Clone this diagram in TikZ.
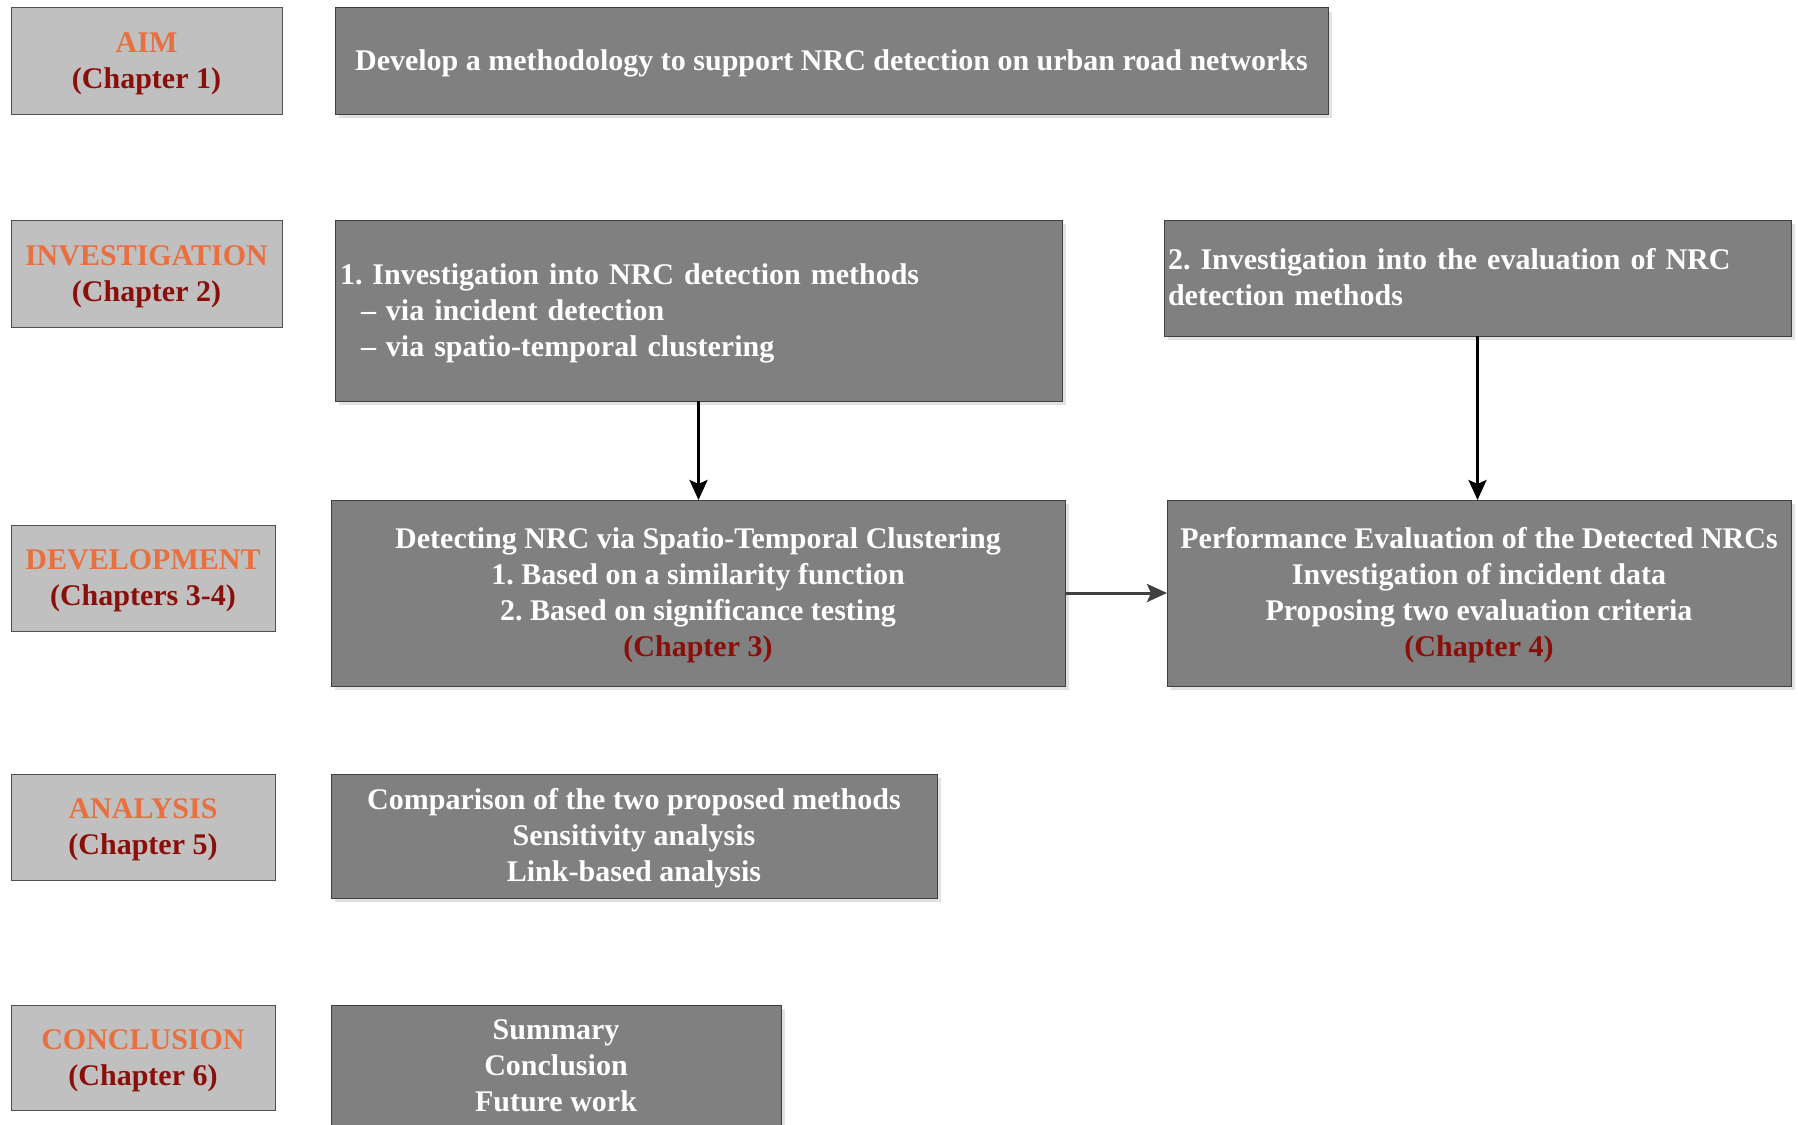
\documentclass[tikz,border=0pt]{standalone}
\usepackage{fontspec}
\setmainfont{Liberation Serif}
\usetikzlibrary{arrows.meta,shadows}
\definecolor{labfill}{HTML}{C0C0C0}
\definecolor{labdraw}{HTML}{505050}
\definecolor{boxfill}{HTML}{808080}
\definecolor{boxdraw}{HTML}{404040}
\definecolor{shadowc}{HTML}{E2E2E2}
\definecolor{orangec}{HTML}{E8703F}
\definecolor{chapred}{HTML}{8A0F0A}
\definecolor{arrgray}{HTML}{404040}
\newcommand\ctext[1]{\raisebox{-2.4pt}[\height][\depth]{\begin{tabular}{@{}c@{}}#1\end{tabular}}}
\newcommand\ltext[1]{\raisebox{-2.4pt}[\height][\depth]{\begin{tabular}{@{}l@{}}#1\end{tabular}}}
\frenchspacing
\begin{document}
\begin{tikzpicture}[x=1pt,y=-1pt,
  every node/.style={font=\bfseries\fontsize{30}{36}\selectfont\frenchspacing, inner sep=0pt, outer sep=0pt},
  labbox/.style={draw=labdraw, line width=1pt, fill=labfill},
  mainbox/.style={draw=boxdraw, line width=1pt, fill=boxfill, text=white,
     drop shadow={shadow xshift=4pt, shadow yshift=-4pt, fill=shadowc, opacity=1}},
  arr/.style={line width=3pt, -{Stealth[length=20pt,width=18pt,inset=4pt]}},
]
\useasboundingbox (0,0) rectangle (1798,1124);

% left label boxes
\node[labbox, minimum width=271, minimum height=106] (aiml) at (146.5,61)
  {\ctext{\textcolor{orangec}{AIM}\\\textcolor{chapred}{(Chapter 1)}}};
\node[labbox, minimum width=271, minimum height=107] (invl) at (146.5,273.5)
  {\ctext{\textcolor{orangec}{INVESTIGATION}\\\textcolor{chapred}{(Chapter 2)}}};
\node[labbox, minimum width=264, minimum height=106] (devl) at (143,578)
  {\ctext{\textcolor{orangec}{DEVELOPMENT}\\\textcolor{chapred}{(Chapters 3-4)}}};
\node[labbox, minimum width=264, minimum height=106] (anal) at (143,827)
  {\ctext{\textcolor{orangec}{ANALYSIS}\\\textcolor{chapred}{(Chapter 5)}}};
\node[labbox, minimum width=264, minimum height=105] (concl) at (143,1057.5)
  {\ctext{\textcolor{orangec}{CONCLUSION}\\\textcolor{chapred}{(Chapter 6)}}};

% main boxes
\node[mainbox, minimum width=993, minimum height=106] (aim) at (831.5,61)
  {\ctext{Develop a methodology to support NRC detection on urban road networks}};
\node[mainbox, minimum width=727, minimum height=181, text width=717, inner xsep=5pt, align=left] (inv1) at (698.5,310.5)
  {\ltext{1. Investigation into NRC detection methods\\
   \hspace*{21pt}-- via incident detection\\
   \hspace*{21pt}-- via spatio-temporal clustering}};
\node[mainbox, minimum width=627, minimum height=116, text width=619, inner xsep=4pt, align=left] (inv2) at (1477.5,278)
  {\ltext{2. Investigation into the evaluation of NRC\\detection methods}};
\node[mainbox, minimum width=734, minimum height=186] (dev1) at (698,593)
  {\ctext{Detecting NRC via Spatio-Temporal Clustering\\
   1. Based on a similarity function\\
   2. Based on significance testing\\
   \textcolor{chapred}{(Chapter 3)}}};
\node[mainbox, minimum width=624, minimum height=186] (dev2) at (1479,593)
  {\ctext{Performance Evaluation of the Detected NRCs\\
   Investigation of incident data\\
   Proposing two evaluation criteria\\
   \textcolor{chapred}{(Chapter 4)}}};
\node[mainbox, minimum width=606, minimum height=124] (ana) at (634,836)
  {\ctext{Comparison of the two proposed methods\\
   Sensitivity analysis\\
   Link-based analysis}};
\node[mainbox, minimum width=450, minimum height=121] (conc) at (556,1065.5)
  {\ctext{Summary\\Conclusion\\Future work}};

% connectors
\draw[arr, black] (inv1.south) -- (inv1.south |- dev1.north);
\draw[arr, black] (inv2.south) -- (inv2.south |- dev2.north);
\draw[arr, arrgray] (dev1.east) -- (dev2.west);
\end{tikzpicture}
\end{document}
